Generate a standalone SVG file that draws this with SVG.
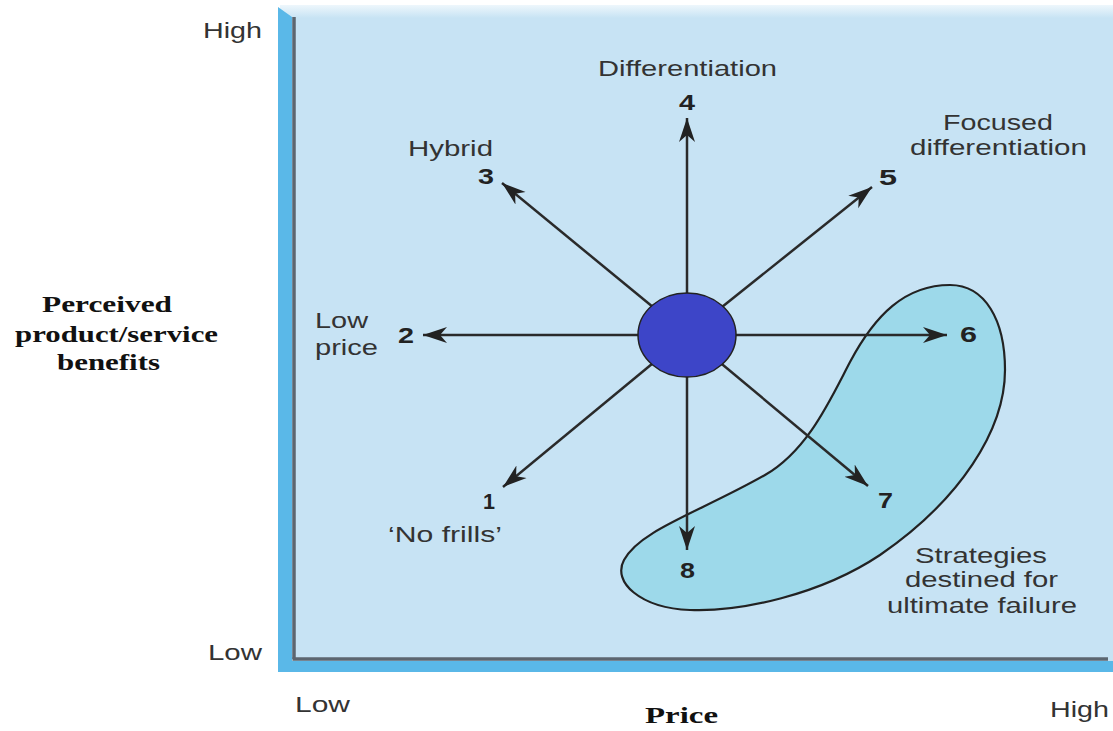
<svg xmlns="http://www.w3.org/2000/svg" width="1113" height="731" viewBox="0 0 1113 731">
<defs>
<linearGradient id="topfade" x1="0" y1="0" x2="0" y2="1">
<stop offset="0" stop-color="#eef7fc"/>
<stop offset="1" stop-color="#c7e3f4"/>
</linearGradient>
<marker id="arr" markerUnits="userSpaceOnUse" markerWidth="26" markerHeight="18" refX="24" refY="9" orient="auto" viewBox="0 0 26 18">
<path d="M0,1 L24,9 L0,17 L7,9 Z" fill="#222"/>
</marker>
<style>
.lbl{font-family:"Liberation Sans",Arial,sans-serif;font-size:22px;fill:#333}
.num{font-family:"Liberation Sans",Arial,sans-serif;font-size:22px;font-weight:bold;fill:#222}
.ax{font-family:"Liberation Serif","Times New Roman",serif;font-size:23px;font-weight:bold;fill:#111}
.conn{stroke:#2a2a2a;stroke-width:2.5;fill:none;marker-end:url(#arr)}
</style>
</defs>
<rect width="1113" height="731" fill="#fff"/>
<g id="panel">
<rect x="280" y="5" width="833" height="667" fill="#c7e3f4"/>
<rect x="280" y="5" width="833" height="13" fill="url(#topfade)"/>
<path d="M278,7 L292,17 L292,661 L1113,661 L1113,672 L278,672 Z" fill="#5ab8e8"/>
<line x1="294" y1="17" x2="294" y2="659" stroke="#5c6670" stroke-width="3.5"/>
<line x1="292.5" y1="659" x2="1108" y2="659" stroke="#5c6670" stroke-width="3.5"/>
</g>
<g id="failure-zone">
<path d="M950,285 C985,285 1005,320 1005,370 C1005,430 960,500 880,555 C820,595 740,612 690,610 C640,608 612,582 624,560 C640,530 700,512 765,475 C808,450 830,400 850,362 C875,315 905,285 950,285 Z" fill="#9dd9ea" stroke="#222" stroke-width="2.2"/>
<text class="lbl" x="915" y="563" textLength="132" lengthAdjust="spacingAndGlyphs">Strategies</text>
<text class="lbl" x="905" y="587" textLength="153" lengthAdjust="spacingAndGlyphs">destined for</text>
<text class="lbl" x="887" y="613" textLength="190" lengthAdjust="spacingAndGlyphs">ultimate failure</text>
</g>
<g id="connectors">
<line class="conn" x1="687" y1="335" x2="687" y2="118"/>
<line class="conn" x1="687" y1="335" x2="872" y2="187"/>
<line class="conn" x1="687" y1="335" x2="947" y2="335"/>
<line class="conn" x1="687" y1="335" x2="868" y2="486"/>
<line class="conn" x1="687" y1="335" x2="687" y2="550"/>
<line class="conn" x1="687" y1="335" x2="503" y2="487"/>
<line class="conn" x1="687" y1="335" x2="423" y2="335"/>
<line class="conn" x1="687" y1="335" x2="502" y2="183"/>
</g>
<g id="center">
<ellipse cx="687" cy="335" rx="49" ry="42" fill="#3d45c8" stroke="#222" stroke-width="1.5"/>
</g>
<g id="s4">
<text class="lbl" x="598" y="76" textLength="179" lengthAdjust="spacingAndGlyphs">Differentiation</text>
<text class="num" x="679" y="110" textLength="16" lengthAdjust="spacingAndGlyphs">4</text>
</g>
<g id="s3">
<text class="lbl" x="408" y="156" textLength="85" lengthAdjust="spacingAndGlyphs">Hybrid</text>
<text class="num" x="478" y="184" textLength="16" lengthAdjust="spacingAndGlyphs">3</text>
</g>
<g id="s5">
<text class="lbl" x="943" y="130" textLength="110" lengthAdjust="spacingAndGlyphs">Focused</text>
<text class="lbl" x="910" y="155" textLength="177" lengthAdjust="spacingAndGlyphs">differentiation</text>
<text class="num" x="879" y="185" textLength="18" lengthAdjust="spacingAndGlyphs">5</text>
</g>
<g id="s2">
<text class="lbl" x="315" y="328" textLength="53" lengthAdjust="spacingAndGlyphs">Low</text>
<text class="lbl" x="315" y="355" textLength="63" lengthAdjust="spacingAndGlyphs">price</text>
<text class="num" x="398" y="343" textLength="16" lengthAdjust="spacingAndGlyphs">2</text>
</g>
<g id="s6">
<text class="num" x="960" y="342" textLength="17" lengthAdjust="spacingAndGlyphs">6</text>
</g>
<g id="s1">
<text class="num" x="483" y="509" textLength="12" lengthAdjust="spacingAndGlyphs">1</text>
<text class="lbl" x="388" y="542" textLength="114" lengthAdjust="spacingAndGlyphs">‘No frills’</text>
</g>
<g id="s7">
<text class="num" x="878" y="508" textLength="15" lengthAdjust="spacingAndGlyphs">7</text>
</g>
<g id="s8">
<text class="num" x="680" y="578" textLength="15" lengthAdjust="spacingAndGlyphs">8</text>
</g>
<g id="axes">
<text class="lbl" x="203" y="38" textLength="59" lengthAdjust="spacingAndGlyphs">High</text>
<text class="lbl" x="208" y="660" textLength="54" lengthAdjust="spacingAndGlyphs">Low</text>
<text class="lbl" x="295" y="712" textLength="55" lengthAdjust="spacingAndGlyphs">Low</text>
<text class="lbl" x="1050" y="717" textLength="59" lengthAdjust="spacingAndGlyphs">High</text>
<text class="ax" x="645" y="723" textLength="73" lengthAdjust="spacingAndGlyphs">Price</text>
<text class="ax" x="42" y="312" textLength="130" lengthAdjust="spacingAndGlyphs">Perceived</text>
<text class="ax" x="15" y="342" textLength="203" lengthAdjust="spacingAndGlyphs">product/service</text>
<text class="ax" x="57" y="370" textLength="103" lengthAdjust="spacingAndGlyphs">benefits</text>
</g>
</svg>
